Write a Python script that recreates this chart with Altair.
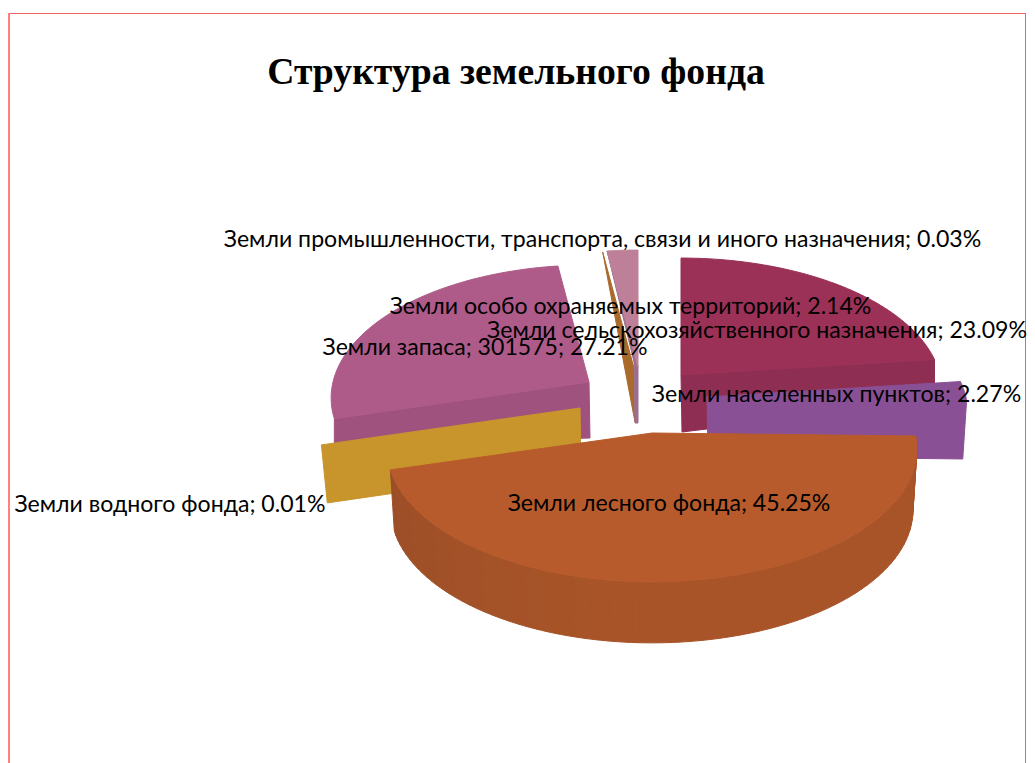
import math
import altair as alt

# --- chart values ---
names = ["Земли сельскохозяйственного назначения", "Земли населенных пунктов",
         "Земли лесного фонда", "Земли водного фонда", "Земли запаса",
         "Земли промышленности, транспорта, связи и иного назначения",
         "Земли особо охраняемых территорий"]
shares = [23.09, 2.27, 45.25, 0.01, 27.21, 0.03, 2.14]
absolute = [None, None, None, None, "301575", None, None]
title = "Структура земельного фонда"

# --- layout of the exploded 3-D pie (page pixels) ---
OFF = 8
RY = 131      # vertical half axis of the pie disc
PERSP = 0.12  # perspective foreshortening of the far side
# slice index: apex x, apex y, horizontal half axis
geom = {
    0: (681, 375, 259),
    1: (707, 397, 259),
    2: (652, 433, 263),
    3: (580, 408, 260),
    4: (589, 382, 256),
    5: (634, 368, 258),
    6: (638, 367, 258),
}
label_pos = {0: (757, 331), 1: (836.5, 395), 2: (669, 504), 3: (170, 505),
             4: (485, 348), 5: (602.5, 240), 6: (630.5, 307)}

starts, c = [], 0.0
for s in shares:
    starts.append(c)
    c += s
total = c
ang = lambda v: v / total * 2 * math.pi


def pt(i, t):
    cx, cy, rx = geom[i]
    w = 1 + PERSP * math.cos(t)
    return (cx + rx * math.sin(t) / w, cy - RY * math.cos(t) / w)


def span(i):
    return ang(starts[i]), ang(starts[i] + shares[i])


def arc(i, a, b, n=60):
    return [pt(i, a + (b - a) * k / n) for k in range(n + 1)]


def feat(points, fill):
    ring = [[x - OFF, y - OFF] for x, y in points]
    ring.append(ring[0])
    return {"type": "Feature", "properties": {"fill": fill},
            "geometry": {"type": "Polygon", "coordinates": [ring]}}


def face(i, fill):
    a, b = span(i)
    return feat([geom[i][:2]] + arc(i, a, b), fill)


def wall(i, t, d_apex, d_out, fill, kx=1.0):
    cx, cy = geom[i][:2]
    x, y = pt(i, t)
    return feat([(cx, cy), (x, y), (cx + (x - cx) * kx, y + d_out), (cx + 1, cy + d_apex)], fill)


def inner_wall(i, t, inset, d_apex, fill):
    """Far wall that narrows towards the apex, leaving its neighbour visible."""
    cx, cy = geom[i][:2]
    x, y = pt(i, t)
    return feat([(cx, cy), (x, y), (cx - inset, cy - 5), (cx - inset + 1, cy + d_apex),
                 (cx, cy + d_apex)], fill)


def mix(c1, c2, f):
    p = [int(c1[k:k + 2], 16) for k in (1, 3, 5)]
    q = [int(c2[k:k + 2], 16) for k in (1, 3, 5)]
    return "#" + "".join(f"{round(u + (v - u) * f):02X}" for u, v in zip(p, q))


def rim(i, a, b, depth, c_right, c_left, kx=1.0, n=80):
    cx = geom[i][0]
    out = []
    for k in range(n):
        aa = a + (b - a) * k / n
        bb = a + (b - a) * (k + 1) / n
        top = arc(i, aa, bb, 2)
        bot = [(cx + (x - cx) * kx, y + depth) for x, y in reversed(top)]
        f = max(0.0, (k / n - 0.6) / 0.4)
        out.append(feat(top + bot, mix(c_right, c_left, f)))
    return out


features = []
# agricultural
a0, b0 = span(0)
features += [wall(0, b0, 57, 42, "#8E2E52"), face(0, "#9B3157")]
# reserve
a4, b4 = span(4)
features += [wall(4, a4, 56, 28, "#A0527F"), face(4, "#AE5B8A")]
# thin slices at the back
a5, b5 = span(5)
features += [wall(5, a5, 54, 0, "#A96A2C")]
a6, b6 = span(6)
features += [inner_wall(6, a6, 4, 56, "#9B6E8F"), face(6, "#BE8098")]
# water
a3, b3 = span(3)
features += [wall(3, a3, 58, 58, "#C8952C", kx=0.977)]
# settlements
a1, b1 = span(1)
features += [wall(1, b1, 59, 59, "#8A5095", kx=0.985), face(1, "#8A5095")]
# forest
a2, b2 = span(2)
features += rim(2, a2, b2, 61, "#A85428", "#9C4E27", kx=0.985)
features += [face(2, "#B85B2C")]

proj = dict(type="identity", scale=1, translate=[0, 0])
W, H = 1019, 755

pie = alt.Chart(alt.Data(values=features)).mark_geoshape(strokeWidth=1).encode(
    fill=alt.Fill("properties.fill:N", scale=None, legend=None),
    stroke=alt.Stroke("properties.fill:N", scale=None, legend=None),
).project(**proj)

rows = []
for i, n in enumerate(names):
    parts = [n] + ([absolute[i]] if absolute[i] else []) + [f"{shares[i]:.2f}%"]
    x, y = label_pos[i]
    rows.append({"t": "; ".join(parts), "lon": x - OFF, "lat": y - OFF})

labels = alt.Chart(alt.Data(values=rows)).mark_text(
    font="Lato", fontSize=23.1, color="#000000", align="center", baseline="middle"
).encode(longitude="lon:Q", latitude="lat:Q", text="t:N").project(**proj)

head = alt.Chart(alt.Data(values=[{"t": title, "lon": 516 - OFF, "lat": 73 - OFF}])).mark_text(
    font="Liberation Serif", fontSize=37.7, fontWeight="bold", color="#000000",
    align="center", baseline="middle"
).encode(longitude="lon:Q", latitude="lat:Q", text="t:N").project(**proj)

frame_rows = [
    {"x": 0, "x2": 1018, "y": 5.5, "y2": 5.5, "c": "#F06060", "w": 1},
    {"x": 1, "x2": 1, "y": 5, "y2": H, "c": "#FF8080", "w": 2},
    {"x": 1017.5, "x2": 1017.5, "y": 5, "y2": H, "c": "#F06060", "w": 1},
]
frame = alt.Chart(alt.Data(values=frame_rows)).mark_rule().encode(
    x=alt.X("x:Q", scale=None, axis=None), x2="x2:Q",
    y=alt.Y("y:Q", scale=None, axis=None), y2="y2:Q",
    color=alt.Color("c:N", scale=None, legend=None),
    strokeWidth=alt.StrokeWidth("w:Q", scale=None, legend=None),
)

chart = alt.layer(frame, pie, labels, head).properties(
    width=W, height=H, padding=0, autosize=alt.AutoSizeParams(type="none"),
    background="#FFFFFF"
).configure_view(stroke=None)

chart.save("out.html", embed_options={"renderer": "svg", "actions": False})
